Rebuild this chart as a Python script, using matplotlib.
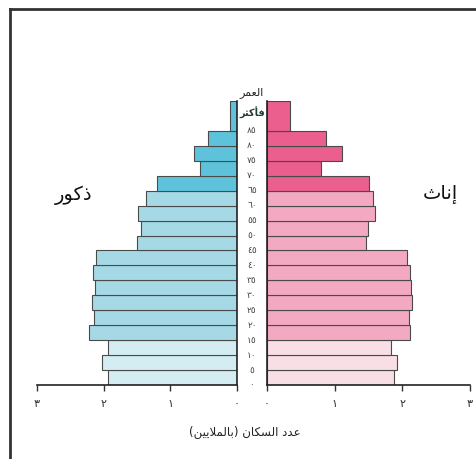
import numpy as np
import matplotlib
matplotlib.use('Agg')
import matplotlib.pyplot as plt
from matplotlib.transforms import blended_transform_factory

plt.rcParams['font.family'] = ['DejaVu Sans']

# age groups (lower bound of each bin, years); last one is "85 and over"
age_start = [0, 5, 10, 15, 20, 25, 30, 35, 40, 45, 50, 55, 60, 65, 70, 75, 80, 85]
age_height = [5] * 17 + [10]

# population in millions
males = [1.93, 2.02, 1.93, 2.22, 2.14, 2.17, 2.13, 2.16, 2.11, 1.50, 1.44, 1.48, 1.37,
         1.20, 0.55, 0.65, 0.43, 0.10]
females = [1.88, 1.92, 1.83, 2.11, 2.10, 2.15, 2.13, 2.12, 2.07, 1.46, 1.49, 1.60, 1.57,
           1.51, 0.80, 1.11, 0.87, 0.34]

# tick labels in Arabic-Indic digits
age_labels = ['٠', '٥', '١٠', '١٥', '٢٠', '٢٥', '٣٠', '٣٥', '٤٠', '٤٥', '٥٠', '٥٥', '٦٠',
              '٦٥', '٧٠', '٧٥', '٨٠', '٨٥']
pop_ticks = [0, 1, 2, 3]
pop_labels = ['٠', '١', '٢', '٣']

# Arabic strings written in shaped presentation forms, visual (left-to-right) order
txt_males = '\uFEAD\uFEEE\uFEDB\uFEAB'              # ذكور
txt_females = '\uFE99\uFE8E\uFEE7\uFE87'            # إناث
txt_age = '\uFEAE\uFEE4\uFECC\uFEDF\uFE8D'          # العمر
txt_over = '\uFEAE\uFE9C\uFEDB\uFE84\uFED3'         # فأكثر
txt_xlabel = ('(' + '\uFEE6\uFEF4\uFEF3\uFEFC\uFEE4\uFEDF\uFE8E\uFE91' + ') '
              + '\uFEE5\uFE8E\uFEDC\uFEB4\uFEDF\uFE8D' + ' ' + '\uFEA9\uFEAA\uFECB')


def band_colors(light, mid, dark):
    cols = []
    for a in age_start:
        if a < 15:
            cols.append(light)
        elif a < 65:
            cols.append(mid)
        else:
            cols.append(dark)
    return cols


male_cols = band_colors('#d3edf3', '#a6d9e6', '#5ec3da')
female_cols = band_colors('#f8dee5', '#f3a9c2', '#ea5f8e')

W, H = 477, 459
fig = plt.figure(figsize=(W / 100, H / 100), dpi=100)

y_bottom = (H - 385) / H
y_height = (385 - 101) / H
ax_l = fig.add_axes([37 / W, y_bottom, 200 / W, y_height])
ax_r = fig.add_axes([267 / W, y_bottom, 203 / W, y_height])

ax_l.barh(age_start, males, height=age_height, align='edge', color=male_cols,
          edgecolor='#4a4a4a', linewidth=0.8)
ax_r.barh(age_start, females, height=age_height, align='edge', color=female_cols,
          edgecolor='#4a4a4a', linewidth=0.8)

ax_l.set_xlim(3, 0)
ax_r.set_xlim(0, 3)
for ax in (ax_l, ax_r):
    ax.set_ylim(0, 95)
    ax.set_yticks([])
    ax.set_xticks(pop_ticks)
    ax.set_xticklabels(pop_labels, fontsize=8, color='#333333')
    ax.tick_params(axis='x', direction='out', length=4, width=1, color='#333333', pad=6)
    ax.spines['top'].set_visible(False)
    for s in ax.spines.values():
        s.set_color('#222222')
        s.set_linewidth(1.2)
ax_l.spines['left'].set_visible(False)
ax_r.spines['right'].set_visible(False)

# age labels in the middle column
tr = blended_transform_factory(fig.transFigure, ax_l.transData)
mid_x = 252 / W
for a, lab in zip(age_start, age_labels):
    ax_l.text(mid_x, a, lab, transform=tr, ha='center', va='center', fontsize=6.5,
              color='#444444', clip_on=False)
ax_l.text(mid_x, 91, txt_over, transform=tr, ha='center', va='center', fontsize=7,
          fontweight='bold', color='#1f3a3a', clip_on=False)
fig.text(mid_x, 1 - 93 / H, txt_age, ha='center', va='center', fontsize=8, color='#222222')

fig.text(74 / W, 1 - 195 / H, txt_males, ha='center', va='center', fontsize=14, color='#111111')
fig.text(440 / W, 1 - 194 / H, txt_females, ha='center', va='center', fontsize=14, color='#111111')
fig.text(245 / W, 1 - 432 / H, txt_xlabel, ha='center', va='center', fontsize=8.5, color='#222222')

# frame (top and left edges visible in the original)
fig.add_artist(plt.Line2D([10 / W, 1], [1 - 9 / H, 1 - 9 / H], transform=fig.transFigure,
                          color='#333333', linewidth=2))
fig.add_artist(plt.Line2D([10 / W, 10 / W], [0, 1 - 9 / H], transform=fig.transFigure,
                          color='#333333', linewidth=2))

fig.savefig('out.png', dpi=100, facecolor='white')
